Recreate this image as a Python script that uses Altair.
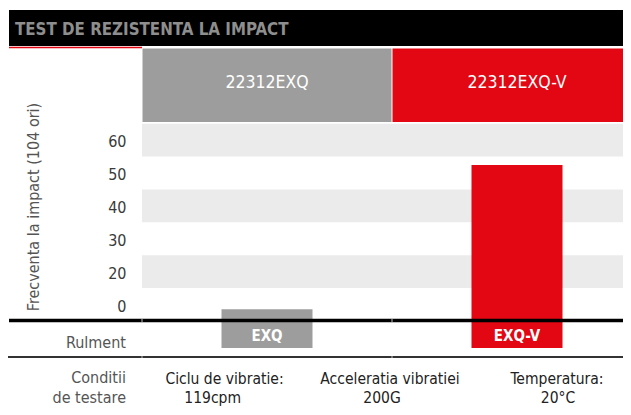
import altair as alt
import pandas as pd

# ---------------- data ----------------
title_text = "TEST DE REZISTENTA LA IMPACT"
categories = ["EXQ", "EXQ-V"]
header_labels = ["22312EXQ", "22312EXQ-V"]
impact_values = [8.6, 52.4]
bar_colors = ["#9d9d9d", "#e30613"]
baseline_value = 5
tick_values = [10, 20, 30, 40, 50, 60]
tick_labels = ["0", "20", "30", "40", "50", "60"]
band_lo = [15, 35, 55]
band_hi = [25, 45, 65]
y_title = "Frecventa la impact (104 ori)"
row_label = "Rulment"
cond_label = ["Conditii", "de testare"]
cond_line1 = ["Ciclu de vibratie:", "Acceleratia vibratiei", "Temperatura:"]
cond_line2 = ["119cpm", "200G", "20°C"]

# ---------------- layout ----------------
FONT = "DejaVu Sans Condensed, DejaVu Sans, sans-serif"
W, H = 481, 273          # visible plot width (svg ends 8px before window edge)
STEP_RANGE = 500         # two 250px columns, the second runs past the edge
GRAY, RED = bar_colors

bars_df = pd.DataFrame({"cat": categories, "header": header_labels,
                        "value": impact_values, "color": bar_colors})
bands_df = pd.DataFrame({"lo": band_lo, "hi": band_hi})
one = pd.DataFrame({"k": [0]})

label_expr = " : ".join(
    f"datum.value == {v} ? '{l}'" for v, l in zip(tick_values, tick_labels)
) + " : datum.label"

yscale = alt.Scale(domain=[baseline_value, 88], nice=False, zero=False)
xscale = alt.Scale(domain=categories, range=[0, STEP_RANGE],
                   paddingInner=0, paddingOuter=0)
xenc = alt.X("cat:N", scale=xscale, axis=None)
color_enc = alt.Color("color:N", scale=None)

yaxis = alt.Axis(values=tick_values, labelExpr=label_expr, title=y_title,
                 domain=False, ticks=False, grid=False, labelPadding=16,
                 labelFontSize=16, labelColor="#3a3a3a", labelFont=FONT,
                 labelOffset=1.5, titleFont=FONT, titleFontSize=16,
                 titleColor="#555555", titleFontWeight="normal",
                 titleX=-109, titleY=158.5, titleAngle=270,
                 titleAlign="center", titleBaseline="middle")

bands = alt.Chart(bands_df).mark_rect(color="#ebebeb").encode(
    y=alt.Y("lo:Q", scale=yscale, axis=yaxis), y2="hi:Q",
    x=alt.value(0), x2=alt.value(W))

title_bar = alt.Chart(one).mark_rect(color="#000000").encode(
    x=alt.value(-133), x2=alt.value(W), y=alt.value(-38), y2=alt.value(-2))
title_txt = alt.Chart(one).mark_text(
    text=title_text, font=FONT, fontWeight="bold", fontSize=16.8,
    color="#8e8e8e", align="left", baseline="alphabetic").encode(
    x=alt.value(-127), y=alt.value(-13))
red_line = alt.Chart(one).mark_rule(color=RED, strokeWidth=1.5).encode(
    x=alt.value(-133), x2=alt.value(0), y=alt.value(-0.5))

headers = alt.Chart(bars_df).mark_bar(size=249).encode(
    x=xenc, y=alt.value(0.5), y2=alt.value(74), color=color_enc)
header_txt = alt.Chart(bars_df).mark_text(
    font=FONT, fontSize=17.5, color="white", baseline="middle").encode(
    x=xenc, y=alt.value(35), text="header:N")

bars = alt.Chart(bars_df).mark_bar(size=91).encode(
    x=xenc, y=alt.Y("value:Q", scale=yscale, axis=yaxis),
    y2=alt.datum(baseline_value), color=color_enc)

boxes = alt.Chart(bars_df).mark_bar(size=91).encode(
    x=xenc, y=alt.value(274), y2=alt.value(300), color=color_enc)
box_txt = alt.Chart(bars_df).mark_text(
    font=FONT, fontWeight="bold", fontSize=15, color="white",
    baseline="middle").encode(x=xenc, y=alt.value(288), text="cat:N")

base_rule = alt.Chart(one).mark_rule(color="#000000", strokeWidth=3.5).encode(
    x=alt.value(-133), x2=alt.value(W), y=alt.value(272.5))
low_rule = alt.Chart(one).mark_rule(color="#333333", strokeWidth=2).encode(
    x=alt.value(-134), x2=alt.value(W), y=alt.value(309))
# faint column separators crossing the two horizontal rules
seps = []
for xs in (0, 250):
    for (ya, yb) in ((270.5, 274.5), (308, 310)):
        seps.append(alt.Chart(one).mark_rule(color="#bdbdbd", strokeWidth=1).encode(
            x=alt.value(xs), y=alt.value(ya), y2=alt.value(yb)))

def txt(s, x, y, align="center", color="#222222", size=15.5):
    return alt.Chart(one).mark_text(
        text=s, font=FONT, fontSize=size, color=color, align=align,
        baseline="middle").encode(x=alt.value(x), y=alt.value(y))

texts = [
    txt(row_label, -16, 295, align="right", color="#555555", size=16),
    txt(cond_label[0], -16, 330, align="right", color="#555555", size=16),
    txt(cond_label[1], -16, 349.5, align="right", color="#555555", size=16),
]
line1_x = [82.5, 248, 415]
line2_x = [70.7, 240, 416]
for s, x in zip(cond_line1, line1_x):
    texts.append(txt(s, x, 330.5))
for s, x in zip(cond_line2, line2_x):
    texts.append(txt(s, x, 349.5))

chart = alt.layer(
    bands, title_bar, title_txt, red_line, headers, header_txt,
    bars, boxes, box_txt, base_rule, low_rule, *seps, *texts
).properties(
    width=W, height=H,
    autosize=alt.AutoSizeParams(type="none"),
    padding={"left": 134, "top": 40, "right": 0, "bottom": 86},
    background="white",
).configure_view(stroke=None)

chart.save("out.html", embed_options={"renderer": "svg", "actions": False})
